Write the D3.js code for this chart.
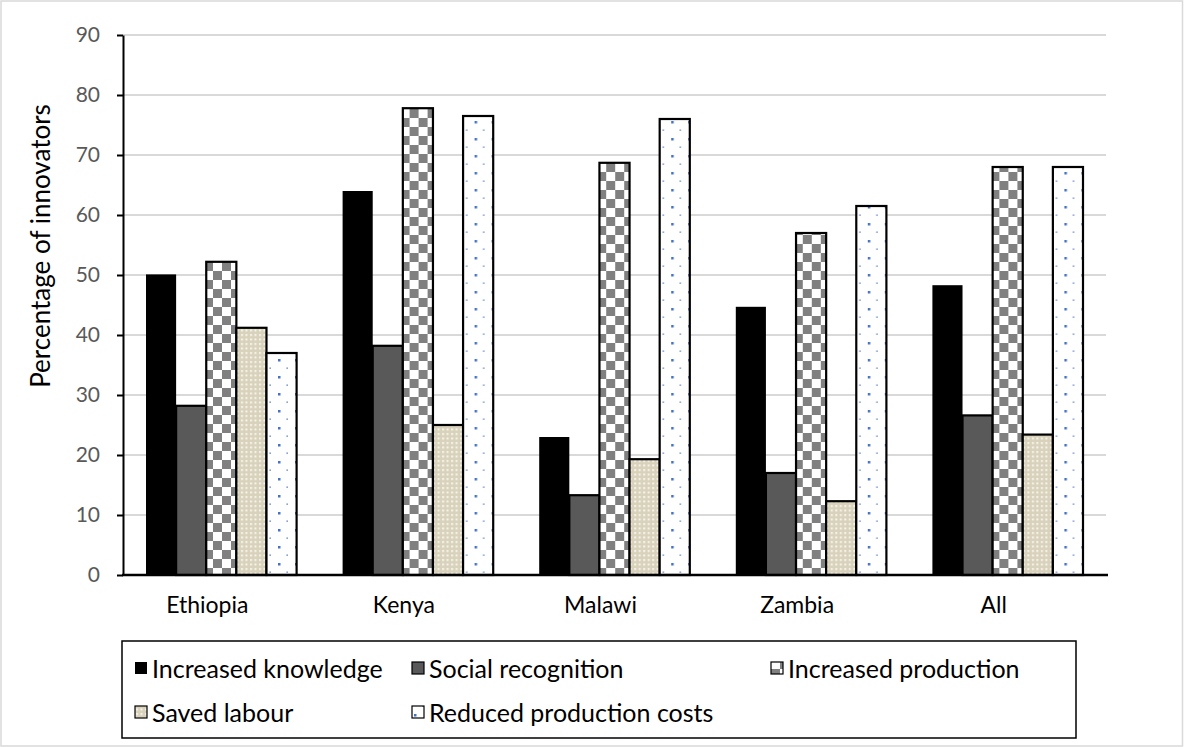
<!DOCTYPE html>
<html>
<head>
<meta charset="utf-8">
<script src="https://cdn.jsdelivr.net/npm/d3@7/dist/d3.min.js"></script>
<style>
  html, body { margin: 0; padding: 0; background: #fff; }
  svg { display: block; font-family: Lato, "Open Sans", sans-serif; }
</style>
</head>
<body>
<svg id="chart" width="1184" height="747"></svg>
<script>
// Countries on the x axis
const categories = ["Ethiopia", "Kenya", "Malawi", "Zambia", "All"];
// Reasons reported by innovators (one series each)
const seriesNames = ["Increased knowledge", "Social recognition", "Increased production", "Saved labour", "Reduced production costs"];
// Percentage of innovators, per country, for each series
const increasedKnowledge = [50.1, 64.0, 23.0, 44.7, 48.3];
const socialRecognition = [28.2, 38.2, 13.3, 17.0, 26.6];
const increasedProduction = [52.2, 77.8, 68.7, 57.0, 68.0];
const savedLabour = [41.2, 25.0, 19.3, 12.3, 23.4];
const reducedCosts = [37.0, 76.5, 76.0, 61.5, 68.0];
const yTicks = [0, 10, 20, 30, 40, 50, 60, 70, 80, 90];

const seriesValues = [increasedKnowledge, socialRecognition, increasedProduction, savedLabour, reducedCosts];
const fills = ["#000000", "#595959", "url(#checker)", "url(#labourDots)", "url(#blueDots)"];

const svg = d3.select("#chart");
const W = 1184, H = 747;

// outer frame
svg.append("rect").attr("x", 1).attr("y", 1).attr("width", W - 2.5).attr("height", H - 2)
  .attr("fill", "#fff").attr("stroke", "#d9d9d9").attr("stroke-width", 1.5);

// fill patterns
const defs = svg.append("defs");
const chk = defs.append("pattern").attr("id", "checker").attr("patternUnits", "userSpaceOnUse")
  .attr("width", 18).attr("height", 18).attr("x", 0).attr("y", 1);
chk.append("rect").attr("width", 18).attr("height", 18).attr("fill", "#fff");
chk.append("rect").attr("width", 9).attr("height", 9).attr("fill", "#808080");
chk.append("rect").attr("x", 9).attr("y", 9).attr("width", 9).attr("height", 9).attr("fill", "#808080");

const lab = defs.append("pattern").attr("id", "labourDots").attr("patternUnits", "userSpaceOnUse")
  .attr("width", 4.5).attr("height", 4.5);
lab.append("rect").attr("width", 4.5).attr("height", 4.5).attr("fill", "#d8d2bb");
lab.append("rect").attr("x", 1).attr("y", 1).attr("width", 2).attr("height", 2).attr("fill", "#f7f5ee");

const bd = defs.append("pattern").attr("id", "blueDots").attr("patternUnits", "userSpaceOnUse")
  .attr("width", 17).attr("height", 17);
bd.append("rect").attr("width", 17).attr("height", 17).attr("fill", "#fff");
bd.append("rect").attr("x", 2).attr("y", 2).attr("width", 2.5).attr("height", 2.5).attr("fill", "#4472c4");
bd.append("rect").attr("x", 10.5).attr("y", 10.5).attr("width", 1.3).attr("height", 1.3).attr("fill", "#4472c4");

// plot area
const plot = { left: 123, right: 1106, top: 35, bottom: 575 };

const y = d3.scaleLinear().domain([0, 90]).range([plot.bottom, plot.top]);
const x0 = d3.scaleBand().domain(categories).range([plot.left, plot.right]).padding(0);
const x1 = d3.scaleBand().domain(seriesNames)
  .range([23, x0.bandwidth() - 23]).padding(0);

// gridlines
svg.append("g").selectAll("line").data(yTicks.filter(d => d > 0)).join("line")
  .attr("x1", plot.left).attr("x2", plot.right)
  .attr("y1", d => y(d)).attr("y2", d => y(d))
  .attr("stroke", "#d9d9d9").attr("stroke-width", 2);

// bars
const groups = svg.append("g").selectAll("g").data(categories).join("g")
  .attr("transform", d => `translate(${x0(d)},0)`);

groups.selectAll("rect")
  .data((c, ci) => seriesNames.map((s, si) => ({ s, si, v: seriesValues[si][ci] })))
  .join("rect")
  .attr("x", d => x1(d.s))
  .attr("y", d => y(d.v))
  .attr("width", x1.bandwidth())
  .attr("height", d => y(0) - y(d.v))
  .attr("fill", d => fills[d.si])
  .attr("stroke", "#000")
  .attr("stroke-width", d => d.si === 0 ? 0 : 2.2);

// y axis
const yAxis = d3.axisLeft(y).tickValues(yTicks).tickSize(6).tickPadding(17).tickSizeOuter(0);
const gy = svg.append("g").attr("transform", `translate(${plot.left},0)`).call(yAxis);
gy.select(".domain").attr("stroke", "#000").attr("stroke-width", 2);
gy.selectAll(".tick line").attr("stroke", "#000").attr("stroke-width", 2);
gy.selectAll(".tick text").attr("fill", "#595959").style("font-size", "21px")
  .style("font-family", "Lato, sans-serif");

// x axis line
svg.append("line").attr("x1", plot.left - 1).attr("x2", plot.right + 2)
  .attr("y1", plot.bottom).attr("y2", plot.bottom)
  .attr("stroke", "#000").attr("stroke-width", 2.5);

// category labels
const xAxis = d3.axisBottom(x0).tickSize(0).tickPadding(22);
const gx = svg.append("g").attr("transform", `translate(-14,${plot.bottom})`).call(xAxis);
gx.select(".domain").remove();
gx.selectAll(".tick text").attr("fill", "#000").style("font-size", "23px")
  .style("font-family", "Lato, sans-serif");

// y axis title
svg.append("text")
  .attr("transform", `translate(40,246) rotate(-90)`)
  .attr("text-anchor", "middle")
  .attr("dominant-baseline", "central")
  .style("font-size", "26px")
  .text("Percentage of innovators");

// legend
const legend = svg.append("g");
legend.append("rect").attr("x", 122).attr("y", 641).attr("width", 954).attr("height", 97)
  .attr("fill", "#fff").attr("stroke", "#000").attr("stroke-width", 1.5);

const legendPos = [[135, 668], [412, 668], [771, 668], [135, 712], [412, 712]];
const items = legend.selectAll("g.item").data(seriesNames).join("g").attr("class", "item")
  .attr("transform", (d, i) => `translate(${legendPos[i][0]},${legendPos[i][1]})`);
items.append("rect").attr("x", 0).attr("y", -6).attr("width", 12).attr("height", 12)
  .attr("fill", (d, i) => fills[i])
  .attr("stroke", "#000").attr("stroke-width", (d, i) => i === 0 ? 0 : 1.2);
items.append("text").attr("x", 17).attr("y", 0).attr("dominant-baseline", "central")
  .style("font-size", "25px").text(d => d);
</script>
</body>
</html>
